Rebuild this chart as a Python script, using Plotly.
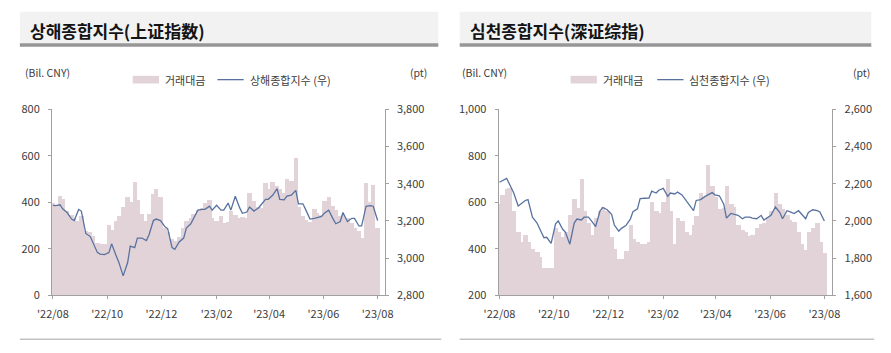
import pandas as pd
import plotly.graph_objects as go

W, H = 891, 353

# ---------------- data (every 3rd trading day) ----------------
dates = pd.bdate_range("2022-08-01", periods=88, freq="3B")

sh_value = [395, 385, 425, 415, 360, 345, 330, 320, 340, 275, 270, 255, 225, 222, 222, 300,
            280, 320, 340, 380, 420, 400, 485, 410, 350, 320, 350, 435, 455, 420, 290, 270,
            240, 232, 250, 290, 320, 330, 350, 365, 375, 395, 410, 330, 320, 340, 310, 315,
            360, 345, 330, 335, 330, 440, 405, 380, 375, 480, 455, 485, 470, 455, 440, 500,
            490, 590, 380, 340, 325, 315, 370, 355, 345, 405, 420, 385, 365, 340, 345, 330,
            310, 290, 275, 245, 480, 400, 475, 290]
sh_index = [3284, 3282, 3287, 3265, 3245, 3210, 3202, 3262, 3253, 3133, 3116, 3082, 3031, 3022,
            3019, 3030, 3077, 3014, 2980, 2905, 2975, 3065, 3057, 3108, 3108, 3094, 3125, 3202,
            3210, 3202, 3168, 3159, 3057, 3048, 3087, 3108, 3162, 3185, 3210, 3258, 3262, 3262,
            3279, 3258, 3284, 3258, 3258, 3296, 3258, 3333, 3270, 3241, 3248, 3275, 3253, 3270,
            3287, 3316, 3316, 3338, 3373, 3316, 3313, 3333, 3338, 3364, 3292, 3292, 3262, 3210,
            3214, 3219, 3224, 3241, 3258, 3210, 3185, 3197, 3245, 3197, 3214, 3214, 3173, 3173,
            3279, 3282, 3279, 3202]

sz_value = [590, 630, 655, 660, 560, 470, 430, 460, 430, 400, 385, 365, 318, 318, 318, 490,
            470, 450, 470, 545, 615, 575, 700, 560, 510, 460, 530, 560, 580, 560, 450, 400,
            355, 355, 390, 500, 440, 430, 420, 420, 430, 600, 560, 555, 600, 700, 560, 420,
            530, 520, 470, 460, 500, 540, 640, 620, 760, 670, 620, 570, 575, 670, 590, 580,
            500, 480, 470, 455, 460, 490, 505, 510, 535, 560, 640, 590, 570, 545, 525, 515,
            470, 420, 395, 470, 490, 510, 430, 380]
sz_index = [2208, 2215, 2228, 2200, 2150, 2080, 2090, 2110, 2115, 2020, 1990, 1960, 1910, 1912,
            1880, 1985, 2000, 1955, 1940, 1875, 1990, 2010, 2005, 2020, 2020, 1990, 1970, 2055,
            2072, 2060, 2035, 1978, 1945, 1960, 1975, 2010, 2050, 2065, 2120, 2122, 2123, 2160,
            2150, 2165, 2175, 2132, 2150, 2145, 2155, 2140, 2108, 2085, 2055, 2110, 2115, 2132,
            2140, 2152, 2140, 2135, 2090, 2015, 2040, 2035, 2030, 2012, 2020, 2020, 2015, 2012,
            2030, 2005, 2020, 2030, 2075, 2045, 2012, 2055, 2050, 2040, 2055, 2040, 2012, 2045,
            2060, 2055, 2048, 2000]

tick_dates = ["2022-08-01", "2022-10-01", "2022-12-01", "2023-02-01",
              "2023-04-01", "2023-06-01", "2023-08-01"]
tick_text = ["'22/08", "'22/10", "'22/12", "'23/02", "'23/04", "'23/06", "'23/08"]

titles = ["상해종합지수(上证指数)", "심천종합지수(深证综指)"]
legend_bar = "거래대금"
legend_lines = ["상해종합지수 (우)", "심천종합지수 (우)"]

# ---------------- style ----------------
BAR = "rgb(226,211,216)"
LINE = "rgb(88,114,160)"
AXIS = "rgb(160,160,160)"
TXT = "rgb(60,60,60)"
FONT = "Noto Sans CJK KR"


def px(x):
    return x / W


def py(y):
    return 1 - y / H


fig = go.Figure()
DAY = 86400000
fig.add_trace(go.Bar(x=dates, y=sh_value, marker=dict(color=BAR, line=dict(width=0)),
                     width=5 * DAY, xaxis="x", yaxis="y", showlegend=False))
fig.add_trace(go.Scatter(x=dates, y=sh_index, mode="lines", line=dict(color=LINE, width=1.3),
                         xaxis="x", yaxis="y2", showlegend=False))
fig.add_trace(go.Bar(x=dates, y=sz_value, marker=dict(color=BAR, line=dict(width=0)),
                     width=5 * DAY, xaxis="x2", yaxis="y3", showlegend=False))
fig.add_trace(go.Scatter(x=dates, y=sz_index, mode="lines", line=dict(color=LINE, width=1.3),
                         xaxis="x2", yaxis="y4", showlegend=False))

ydom = [py(300), py(105)]
tickfont = dict(family=FONT, size=11, color=TXT)
axis_common = dict(showline=True, linecolor=AXIS, linewidth=1, ticks="outside", ticklen=3,
                   tickcolor=AXIS, showgrid=False, zeroline=False, tickfont=tickfont)

fig.update_layout(
    width=W, height=H, margin=dict(l=0, r=0, t=0, b=0),
    paper_bgcolor="white", plot_bgcolor="white", bargap=0, barmode="overlay",
    font=dict(family=FONT, color=TXT),
    xaxis=dict(domain=[px(38), px(380)], anchor="y", type="date",
               range=["2022-07-31", "2023-08-09"], tickvals=tick_dates, ticktext=tick_text,
               ticklabelstandoff=5, **axis_common),
    yaxis=dict(domain=ydom, anchor="x", range=[0, 800], dtick=200, tickformat=",",
               ticklabelstandoff=6, **axis_common),
    yaxis2=dict(overlaying="y", anchor="x", side="right", range=[2800, 3800], dtick=200,
                tickformat=",", ticklabelstandoff=6, **axis_common),
    xaxis2=dict(domain=[px(497), px(840)], anchor="y3", type="date",
                range=["2022-07-31", "2023-08-10"], tickvals=tick_dates, ticktext=tick_text,
                ticklabelstandoff=5, **axis_common),
    yaxis3=dict(domain=ydom, anchor="x2", range=[200, 1000], dtick=200, tickformat=",",
                ticklabelstandoff=6, **axis_common),
    yaxis4=dict(overlaying="y3", anchor="x2", side="right", range=[1600, 2600], dtick=200,
                tickformat=",", ticklabelstandoff=6, **axis_common),
)

shapes = []
annotations = []
panels = [
    dict(x0=5, x1=435, title_x=13, unit_l=8, unit_r=425, leg_box=121, leg_line=208),
    dict(x0=457, x1=880, title_x=466, unit_l=457, unit_r=881, leg_box=571, leg_line=660),
]
for k, p in enumerate(panels):
    # title band
    shapes.append(dict(type="rect", xref="paper", yref="paper", x0=px(p["x0"]), x1=px(p["x1"]),
                       y0=py(36), y1=py(3), fillcolor="rgb(242,242,242)", line=dict(width=0),
                       layer="below"))
    shapes.append(dict(type="rect", xref="paper", yref="paper", x0=px(p["x0"]), x1=px(p["x1"]),
                       y0=py(39.5), y1=py(36), fillcolor="rgb(150,150,150)", line=dict(width=0)))
    # bottom rule
    shapes.append(dict(type="line", xref="paper", yref="paper", x0=px(p["x0"]), x1=px(p["x1"] + 3),
                       y0=py(346), y1=py(346), line=dict(color="rgb(195,195,195)", width=1.5)))
    annotations.append(dict(text="<b>" + titles[k] + "</b>", xref="paper", yref="paper",
                            x=px(p["title_x"]), y=py(22), xanchor="left", yanchor="middle",
                            showarrow=False, font=dict(family=FONT, size=17, color="rgb(20,20,20)")))
    # units
    annotations.append(dict(text="(Bil. CNY)", xref="paper", yref="paper", x=px(p["unit_l"]),
                            y=py(67), xanchor="left", yanchor="middle", showarrow=False,
                            font=dict(family=FONT, size=10.5, color=TXT)))
    annotations.append(dict(text="(pt)", xref="paper", yref="paper", x=px(p["unit_r"]),
                            y=py(67), xanchor="right", yanchor="middle", showarrow=False,
                            font=dict(family=FONT, size=10.5, color=TXT)))
    # legend
    b = p["leg_box"]
    shapes.append(dict(type="rect", xref="paper", yref="paper", x0=px(b), x1=px(b + 27),
                       y0=py(78), y1=py(70), fillcolor=BAR, line=dict(width=0)))
    annotations.append(dict(text=legend_bar, xref="paper", yref="paper", x=px(b + 31), y=py(74),
                            xanchor="left", yanchor="middle", showarrow=False,
                            font=dict(family=FONT, size=11, color=TXT)))
    l = p["leg_line"]
    shapes.append(dict(type="line", xref="paper", yref="paper", x0=px(l), x1=px(l + 27),
                       y0=py(74), y1=py(74), line=dict(color=LINE, width=1.3)))
    annotations.append(dict(text=legend_lines[k], xref="paper", yref="paper", x=px(l + 31),
                            y=py(74), xanchor="left", yanchor="middle", showarrow=False,
                            font=dict(family=FONT, size=11, color=TXT)))

fig.update_layout(shapes=shapes, annotations=annotations)
fig.write_html("out.html")
